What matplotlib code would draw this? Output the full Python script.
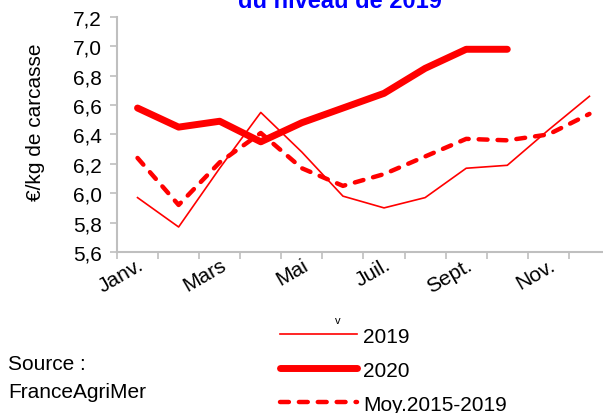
import matplotlib
matplotlib.use("Agg")
import matplotlib.pyplot as plt
import numpy as np

plt.rcParams['font.family'] = ['Liberation Sans', 'DejaVu Sans']

# Prix en €/kg de carcasse, par mois
mois = ["Janv.", "Févr.", "Mars", "Avr.", "Mai", "Juin",
        "Juil.", "Août", "Sept.", "Oct.", "Nov.", "Déc."]
prix_2019 = [5.97, 5.77, 6.17, 6.55, 6.28, 5.98, 5.90, 5.97, 6.17, 6.19, 6.43, 6.66]
prix_2020 = [6.58, 6.45, 6.49, 6.35, 6.48, 6.58, 6.68, 6.85, 6.98, 6.98]
prix_moy = [6.24, 5.92, 6.21, 6.41, 6.17, 6.05, 6.13, 6.25, 6.37, 6.36, 6.40, 6.54]
y_ticks = [5.6, 5.8, 6.0, 6.2, 6.4, 6.6, 6.8, 7.0, 7.2]

fig = plt.figure(figsize=(6.03, 4.14), dpi=100)
ax = fig.add_axes([0.194, 0.389, 0.8176, 0.5676])

x = np.arange(len(mois))
ax.plot(x, prix_2019, color="#ff0000", lw=1.2, label="2019")
ax.plot(x[:len(prix_2020)], prix_2020, color="#ff0000", lw=5,
        solid_capstyle="round", solid_joinstyle="round", label="2020")
ax.plot(x, prix_moy, color="#ff0000", lw=3.2, dashes=(2, 2.25),
        dash_capstyle="round", label="Moy.2015-2019")

ax.set_xlim(-0.5, 11.5)
ax.set_ylim(5.6, 7.2)
ax.set_yticks(y_ticks)
ax.set_yticklabels([f"{v:.1f}".replace(".", ",") for v in y_ticks], fontsize=15)

# étiquettes un mois sur deux
ax.set_xticks(x)
ax.set_xticklabels([m if i % 2 == 0 else "" for i, m in enumerate(mois)],
                   fontsize=15, rotation=30, ha="right", rotation_mode="anchor")
ax.tick_params(axis="x", which="major", length=0, pad=2)
ax.set_xticks(np.arange(-0.5, 12, 1), minor=True)
ax.tick_params(axis="x", which="minor", length=5, width=1.2, color="#bfbfbf")
ax.tick_params(axis="y", length=5, width=1.2, color="#bfbfbf", pad=6)

for s in ["top", "right"]:
    ax.spines[s].set_visible(False)
for s in ["left", "bottom"]:
    ax.spines[s].set_color("#bfbfbf")
    ax.spines[s].set_linewidth(1.5)

fig.text(36 / 603, 1 - 122 / 414, "€/kg de carcasse", rotation=90,
         fontsize=15, ha="center", va="center")
fig.text(340 / 603, 1 - 8 / 414, "du niveau de 2019", color="#0000ff",
         fontsize=17, fontweight="bold", ha="center", va="baseline")

leg = fig.legend(loc="upper left", bbox_to_anchor=(261 / 603, 1 - 309 / 414),
                 frameon=False, fontsize=15, handlelength=3.7,
                 handletextpad=0.3, labelspacing=0.72)
fig.text(338 / 603, 1 - 321 / 414, "v", fontsize=8, ha="center", va="center")

fig.text(8 / 603, 1 - 365 / 414, "Source :", fontsize=15, va="center")
fig.text(8 / 603, 1 - 393 / 414, "FranceAgriMer", fontsize=15, va="center")

fig.savefig("out.png", dpi=100)
